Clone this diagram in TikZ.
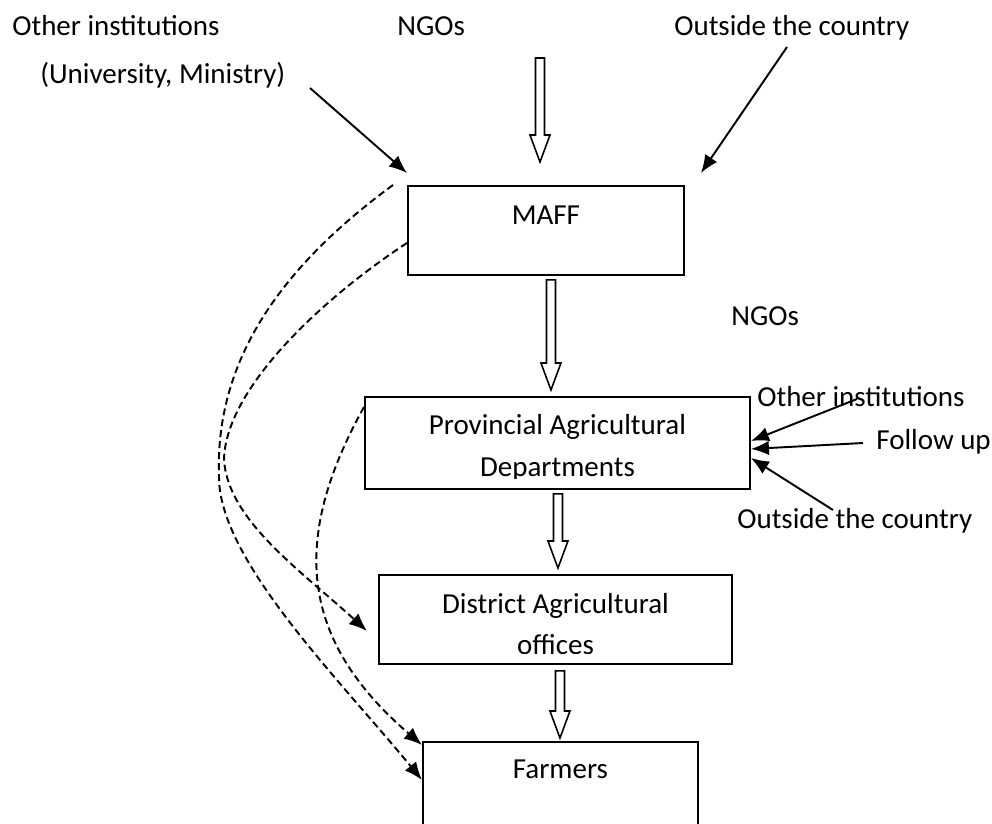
\documentclass[tikz,border=0pt]{standalone}
\usepackage{fontspec}
\setmainfont{Carlito}
\usetikzlibrary{arrows.meta}
\usetikzlibrary{calc}
\usetikzlibrary{positioning}

\tikzset{
    box/.style 2 args={draw, line width=1.1pt, inner sep=0pt, anchor=north west,
                       minimum width=#1*0.02cm, minimum height=#2*0.02cm},
    lbl/.style={anchor=base west, inner sep=0pt},
    txt/.style={anchor=base, inner sep=0pt},
    hollow/.style={draw, line width=0.9pt, fill=white, line join=miter},
    feed/.style={-{Latex[length=3.6mm, width=2.9mm]}, line width=1.1pt},
    link/.style={-{Latex[length=3.6mm, width=2.9mm]}, line width=1.1pt,
                 dash pattern=on 0.14cm off 0.08cm},
}

\newcommand{\hollowarrow}[2]{%
    \draw[hollow] let \p1=(#1), \p2=(#2) in
        (\x1-0.09cm,\y1) -- (\x1+0.09cm,\y1) -- (\x1+0.09cm,\y2+0.54cm)
        -- (\x1+0.2cm,\y2+0.54cm) -- (\x1,\y2) -- (\x1-0.2cm,\y2+0.54cm)
        -- (\x1-0.09cm,\y2+0.54cm) -- cycle;}

\begin{document}
\begin{tikzpicture}[
        x=0.02cm, y=-0.02cm,
        font=\fontsize{16.5}{22.8}\selectfont,
    ]
    \clip (0,0) rectangle (992,823);

    % boxes
    \node[box={276}{89}] (maff) at (407,185) {};
    \node[box={385}{92}] (prov) at (364,396) {};
    \node[box={353}{89}] (dist) at (378,574) {};
    \node[box={275}{120}] (farm) at (422,741) {};

    \node[txt] (maffT) at ($(maff.north)+(0,39)$) {MAFF};
    \begin{scope}
        \clip (prov.north west) rectangle ([yshift=0.22cm]prov.south east);
        \node[txt] (provT1) at ($(prov.north)+(0,38)$) {Provincial Agricultural};
        \node[txt] (provT2) at ($(prov.north)+(0,80)$) {Departments};
    \end{scope}
    \begin{scope}
        \clip (dist.north west) rectangle ([yshift=0.22cm]dist.south east);
        \node[txt] (distT1) at ($(dist.north)+(0,39)$) {District Agricultural};
        \node[txt] (distT2) at ($(dist.north)+(0,80)$) {offices};
    \end{scope}
    \node[txt] (farmT) at ($(farm.north)+(0,37)$) {Farmers};

    % outside labels
    \node[lbl] (othT) at (12,35) {Other institutions};
    \node[lbl] (uniT) at (40,83) {(University, Ministry)};
    \node[lbl] (ngoT) at (397,35) {NGOs};
    \node[lbl] (outT) at (674,35) {Outside the country};
    \node[lbl] (ngoM) at (731,325) {NGOs};
    \node[lbl] (othR) at (757,406) {Other institutions};
    \node[lbl] (folR) at (876,449) {Follow up};
    \node[lbl] (outR) at (737,528) {Outside the country};

    \coordinate (uniA) at (310,88);
    \coordinate (outA) at (787,47);
    \coordinate (ngoA) at (540,58);
    \coordinate (othA) at (857,399);
    \coordinate (folA) at (863,443);
    \coordinate (outB) at (833,510);

    % thin arrows
    \draw[feed] (uniA) -- ([yshift=0.24cm]maff.north west);
    \draw[feed] (outA) -- ([xshift=0.32cm, yshift=0.24cm]maff.north east);
    \draw[feed] (othA) -- ([yshift=0.04cm]prov.east);
    \draw[feed] (folA) -- ([yshift=-0.12cm]prov.east);
    \draw[feed] (outB) -- ([yshift=-0.3cm]prov.east);

    % hollow arrows
    \hollowarrow{ngoA}{[xshift=-0.1cm, yshift=0.46cm]maff.north}
    \hollowarrow{[xshift=0.1cm, yshift=-0.08cm]maff.south}{[yshift=0.12cm]prov.north}
    \hollowarrow{[xshift=0.01cm, yshift=-0.08cm]prov.south}{[yshift=0.12cm]dist.north}
    \hollowarrow{[xshift=0.09cm, yshift=-0.12cm]dist.south}{[yshift=0.06cm]farm.north}

    % dashed links
    \draw[link] ([xshift=-0.28cm]maff.north west)
        .. controls (270,275) and (215,370) .. (219,477)
        .. controls (219,560) and (340,680) .. ([yshift=-0.78cm]farm.north west);
    \draw[link] ([yshift=-0.25cm]maff.west)
        .. controls (320,300) and (225,390) .. (224,460)
        .. controls (228,520) and (300,570) .. ([xshift=-0.22cm, yshift=-0.23cm]dist.west);
    \draw[link] ([yshift=-0.22cm]prov.north west)
        .. controls (290,540) and (300,640) .. ([yshift=-0.08cm]farm.north west);

\end{tikzpicture}
\end{document}
